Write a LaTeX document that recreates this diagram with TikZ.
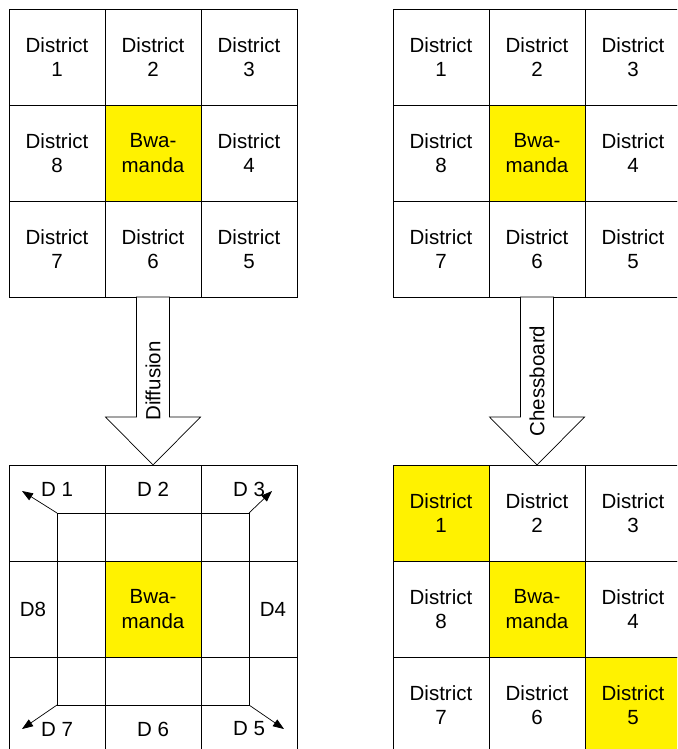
\documentclass[tikz,border=0pt]{standalone}
\usepackage{fontspec}
\setmainfont{Liberation Sans}
\usetikzlibrary{arrows.meta,positioning,calc}

\begin{document}
\begin{tikzpicture}[x=1pt,y=-1pt,
  node distance=0pt,
  cell/.style={draw,line width=0.7pt,minimum size=96pt,inner sep=0pt,outer sep=0pt,align=center,
    font=\fontsize{20.5pt}{24.5pt}\selectfont},
  hl/.style={fill=yellow},
  lbl/.style={inner sep=0pt,font=\fontsize{20.5pt}{24.5pt}\selectfont},
  bigarrow/.style={draw,line width=0.7pt,fill=white},
  arr/.style={-{Triangle[length=11pt,width=8pt]},line width=0.7pt}
]
\useasboundingbox (0,0) rectangle (677,749);
\clip (0,0) rectangle (677,749);
% top left grid
\node[cell] (a1) at (57,57) {District\\1};
\node[cell,right=of a1] (a2) {District\\2};
\node[cell,right=of a2] (a3) {District\\3};
\node[cell,below=of a1] (a8) {District\\8};
\node[cell,hl,right=of a8] (abwa) {Bwa-\\manda};
\node[cell,right=of abwa] (a4) {District\\4};
\node[cell,below=of a8] (a7) {District\\7};
\node[cell,right=of a7] (a6) {District\\6};
\node[cell,right=of a6] (a5) {District\\5};
% top right grid
\node[cell] (b1) at (441,57) {District\\1};
\node[cell,right=of b1] (b2) {District\\2};
\node[cell,right=of b2] (b3) {District\\3};
\node[cell,below=of b1] (b8) {District\\8};
\node[cell,hl,right=of b8] (bbwa) {Bwa-\\manda};
\node[cell,right=of bbwa] (b4) {District\\4};
\node[cell,below=of b8] (b7) {District\\7};
\node[cell,right=of b7] (b6) {District\\6};
\node[cell,right=of b6] (b5) {District\\5};
% diffusion grid
\node[cell] (d1) at (57,513) {};
\node[cell,right=of d1] (d2) {};
\node[cell,right=of d2] (d3) {};
\node[cell,below=of d1] (d8) {};
\node[cell,hl,right=of d8] (dbwa) {Bwa-\\manda};
\node[cell,right=of dbwa] (d4) {};
\node[cell,below=of d8] (d7) {};
\node[cell,right=of d7] (d6) {};
\node[cell,right=of d6] (d5) {};
\draw[line width=0.7pt] (d1.center) rectangle (d5.center);
\node[lbl] (l1) at ($(d1.north)!0.5!(d1.center)$) {D 1};
\node[lbl] (l2) at ($(d2.north)!0.5!(d2.center)$) {D 2};
\node[lbl] (l3) at ($(d3.north)!0.5!(d3.center)$) {D 3};
\node[lbl] (l8) at ($(d8.west)!0.5!(d8.center)$) {D8};
\node[lbl] (l4) at ($(d4.east)!0.5!(d4.center)$) {D4};
\node[lbl] (l7) at ($(d7.south)!0.5!(d7.center)$) {D 7};
\node[lbl] (l6) at ($(d6.south)!0.5!(d6.center)$) {D 6};
\node[lbl] (l5) at ($(d5.south)!0.5!(d5.center)$) {D 5};
\coordinate (t1) at ($(d1.center)+(-35,-22)$);
\coordinate (t3) at ($(d3.center)+(23,-22)$);
\coordinate (t7) at ($(d7.center)+(-35,24)$);
\coordinate (t5) at ($(d5.center)+(35,24)$);
\draw[arr] (d1.center) -- (t1);
\draw[arr] (d3.center) -- (t3);
\draw[arr] (d7.center) -- (t7);
\draw[arr] (d5.center) -- (t5);
% chessboard grid
\node[cell,hl] (c1) at (441,513) {District\\1};
\node[cell,right=of c1] (c2) {District\\2};
\node[cell,right=of c2] (c3) {District\\3};
\node[cell,below=of c1] (c8) {District\\8};
\node[cell,hl,right=of c8] (cbwa) {Bwa-\\manda};
\node[cell,right=of cbwa] (c4) {District\\4};
\node[cell,below=of c8] (c7) {District\\7};
\node[cell,right=of c7] (c6) {District\\6};
\node[cell,hl,right=of c6] (c5) {District\\5};
% big arrows
\draw[bigarrow] ($(a6.south)+(-16.5,0)$) -- ++(0,120) -- ++(-31,0) -- (d2.north)
  -- ++(47.5,-48) -- ++(-31,0) -- ++(0,-120) -- cycle;
\node[lbl,rotate=90] (diff) at ($(a6.south)!0.5!(d2.north)$) {Diffusion};
\draw[bigarrow] ($(b6.south)+(-16.5,0)$) -- ++(0,120) -- ++(-31,0) -- (c2.north)
  -- ++(47.5,-48) -- ++(-31,0) -- ++(0,-120) -- cycle;
\node[lbl,rotate=90] (chess) at ($(b6.south)!0.5!(c2.north)$) {Chessboard};
\end{tikzpicture}
\end{document}
